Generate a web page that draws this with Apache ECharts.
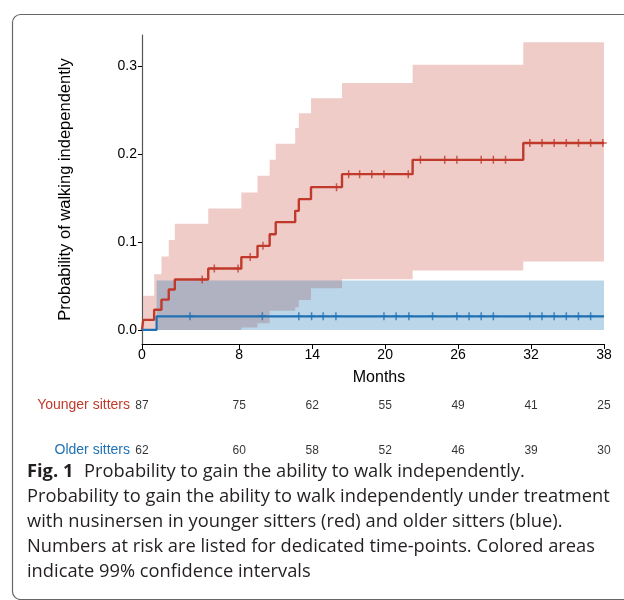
<!DOCTYPE html>
<html><head><meta charset="utf-8">
<script src="https://cdn.jsdelivr.net/npm/echarts@6/dist/echarts.min.js"></script>
<style>html,body{margin:0;padding:0;background:#fff}#c{width:624px;height:600px}</style>
</head><body><div id="c"></div>
<script>
// ---- data ----
const xTicks = [0, 8, 14, 20, 26, 32, 38];
const yTicks = [0, 0.1, 0.2, 0.3];
const endTime = 38;

// Younger sitters (red): step times, Kaplan-Meier estimate, 99% CI
const youngTimes = [0, 0.1, 1.0, 1.6, 2.2, 2.7, 5.45, 8.17, 9.5, 10.5, 11.0, 12.6, 12.9, 13.9, 16.45, 22.26, 31.36];
const youngProb  = [0, 0.0115, 0.023, 0.0345, 0.046, 0.0575, 0.0700, 0.0830, 0.0958, 0.109, 0.1228, 0.1357, 0.149, 0.1627, 0.1775, 0.1938, 0.2129];
const youngUpper = [0, 0.039, 0.0635, 0.0836, 0.1026, 0.1209, 0.1383, 0.1566, 0.1756, 0.1938, 0.212, 0.230, 0.247, 0.264, 0.2813, 0.302, 0.3276];
const youngLower = [0, 0, 0, 0, 0, 0, 0, 0.0027, 0.0076, 0.022, 0.022, 0.026, 0.034, 0.0475, 0.0578, 0.0676, 0.0779];
const youngCensor = [4.95, 5.95, 7.9, 8.9, 9.95, 16.0, 17.0, 17.9, 18.9, 19.9, 21.9, 22.9, 24.9, 25.9, 27.9, 28.9, 29.9, 31.9, 32.9, 33.9, 34.9, 35.9, 36.9, 37.9];

// Older sitters (blue)
const oldTimes = [0, 1.2];
const oldProb  = [0, 0.0155];
const oldUpper = [0, 0.0562];
const oldLower = [0, 0];
const oldCensor = [3.95, 9.9, 12.9, 13.95, 14.9, 15.95, 19.9, 20.9, 21.95, 23.9, 25.9, 26.9, 27.9, 28.9, 31.9, 32.9, 33.9, 34.9, 35.9, 36.9];

// Numbers at risk
const groups = ['Younger sitters', 'Older sitters'];
const riskTimes = [0, 8, 14, 20, 26, 32, 38];
const youngRisk = [87, 75, 62, 55, 49, 41, 25];
const oldRisk   = [62, 60, 58, 52, 46, 39, 30];

// ---- styles ----
const RED = '#c0392b', BLUE = '#1f71b4';
const FONT = 'Liberation Sans, Arial, sans-serif';

function stepData(times, vals) {
  const d = times.map((t, i) => [t, vals[i]]);
  d.push([endTime, vals[vals.length - 1]]);
  return d;
}
function levelAt(times, vals, t) {
  let v = vals[0];
  for (let i = 0; i < times.length; i++) if (times[i] <= t) v = vals[i];
  return v;
}
function bandSeries(times, lower, upper, fill) {
  return {
    type: 'custom', xAxisIndex: 0, yAxisIndex: 0, silent: true, clip: true,
    data: [[0, 0]],
    renderItem: function (params, api) {
      const top = [], bot = [];
      for (let i = 0; i < times.length; i++) {
        const t1 = times[i], t2 = i + 1 < times.length ? times[i + 1] : endTime;
        top.push(api.coord([t1, upper[i]]), api.coord([t2, upper[i]]));
        bot.push(api.coord([t1, lower[i]]), api.coord([t2, lower[i]]));
      }
      return { type: 'polygon', shape: { points: top.concat(bot.reverse()) }, style: { fill: fill } };
    }
  };
}
const CROSS = 'path://M0,3.25 H8 V4.75 H0 Z M3.25,0 H4.75 V8 H3.25 Z';

const chart = echarts.init(document.getElementById('c'), null, { renderer: 'canvas' });
chart.setOption({
  animation: false,
  backgroundColor: '#fff',
  textStyle: { fontFamily: FONT },
  grid: [
    { left: 142, right: 20, top: 35, height: 309 },
    { left: 142, right: 20, top: 383, height: 90 }
  ],
  xAxis: [
    {
      type: 'value', gridIndex: 0, min: 0, max: 38,
      name: 'Months', nameLocation: 'middle', nameGap: 26,
      nameTextStyle: { fontSize: 16, color: '#000', fontFamily: FONT, padding: [0, 0, 0, 12] },
      axisLine: { show: true, onZero: false, lineStyle: { color: '#000', width: 1 } },
      axisTick: { show: true, length: 5, customValues: xTicks, lineStyle: { color: '#000' } },
      axisLabel: { customValues: xTicks, fontSize: 14, color: '#000', margin: 4, fontFamily: FONT },
      splitLine: { show: false }
    },
    { type: 'value', gridIndex: 1, min: 0, max: 38, show: false }
  ],
  yAxis: [
    {
      type: 'value', gridIndex: 0, min: -0.016, max: 0.336,
      name: 'Probability of walking independently', nameLocation: 'middle', nameGap: 68,
      nameTextStyle: { fontSize: 16.5, color: '#000', fontFamily: FONT },
      axisLine: { show: true, onZero: false, lineStyle: { color: '#555', width: 1.2 } },
      axisTick: { show: true, length: 4, customValues: yTicks, lineStyle: { color: '#000' } },
      axisLabel: { customValues: yTicks, fontSize: 14, color: '#000', margin: 5, fontFamily: FONT,
                   formatter: v => v.toFixed(1) },
      splitLine: { show: false }
    },
    {
      type: 'category', gridIndex: 1, data: groups, inverse: true,
      axisLine: { show: false }, axisTick: { show: false }, splitLine: { show: false },
      axisLabel: {
        margin: 12, fontSize: 14, fontFamily: FONT,
        formatter: v => (v === groups[0] ? '{r|' + v + '}' : '{b|' + v + '}'),
        rich: { r: { color: RED, fontSize: 14, fontFamily: FONT }, b: { color: BLUE, fontSize: 14, fontFamily: FONT } }
      }
    }
  ],
  series: [
    bandSeries(youngTimes, youngLower, youngUpper, 'rgba(192,57,43,0.26)'),
    bandSeries(oldTimes, oldLower, oldUpper, 'rgba(31,119,180,0.30)'),
    {
      type: 'line', xAxisIndex: 0, yAxisIndex: 0, step: 'end', showSymbol: false, silent: true,
      data: stepData(youngTimes, youngProb), lineStyle: { color: RED, width: 2.4 }
    },
    {
      type: 'line', xAxisIndex: 0, yAxisIndex: 0, step: 'end', showSymbol: false, silent: true,
      data: stepData(oldTimes, oldProb), lineStyle: { color: BLUE, width: 2.2 }
    },
    {
      type: 'scatter', xAxisIndex: 0, yAxisIndex: 0, silent: true, symbol: CROSS, symbolSize: 8,
      itemStyle: { color: RED },
      data: youngCensor.map(t => [t, levelAt(youngTimes, youngProb, t)])
    },
    {
      type: 'scatter', xAxisIndex: 0, yAxisIndex: 0, silent: true, symbol: CROSS, symbolSize: 8,
      itemStyle: { color: BLUE },
      data: oldCensor.map(t => [t, levelAt(oldTimes, oldProb, t)])
    },
    {
      type: 'scatter', xAxisIndex: 1, yAxisIndex: 1, silent: true, symbolSize: 1,
      itemStyle: { color: 'rgba(0,0,0,0)' },
      label: { show: true, position: 'inside', formatter: p => String(p.value[2]), color: '#000', fontSize: 12, fontFamily: FONT },
      data: riskTimes.map((t, i) => [t, groups[0], youngRisk[i]]).concat(riskTimes.map((t, i) => [t, groups[1], oldRisk[i]]))
    }
  ],
  graphic: [
    {
      type: 'rect', silent: true, z: 100,
      shape: { x: 12.5, y: 14.5, width: 700, height: 585, r: 8 },
      style: { fill: 'none', stroke: '#666', lineWidth: 1.2 }
    },
    {
      type: 'text', silent: true, left: 27, top: 459, z: 100,
      style: {
        text: '{b|Fig. 1} Probability to gain the ability to walk independently.\n' +
              'Probability to gain the ability to walk independently under treatment\n' +
              'with nusinersen in younger sitters (red) and older sitters (blue).\n' +
              'Numbers at risk are listed for dedicated time-points. Colored areas\n' +
              'indicate 99% confidence intervals',
        font: '18.3px "Open Sans", sans-serif', fill: '#231f20', lineHeight: 25,
        rich: { b: { font: 'bold 18.3px "Open Sans", sans-serif', fill: '#231f20', lineHeight: 25, padding: [0, 6, 0, 0] } }
      }
    }
  ]
});
</script></body></html>
